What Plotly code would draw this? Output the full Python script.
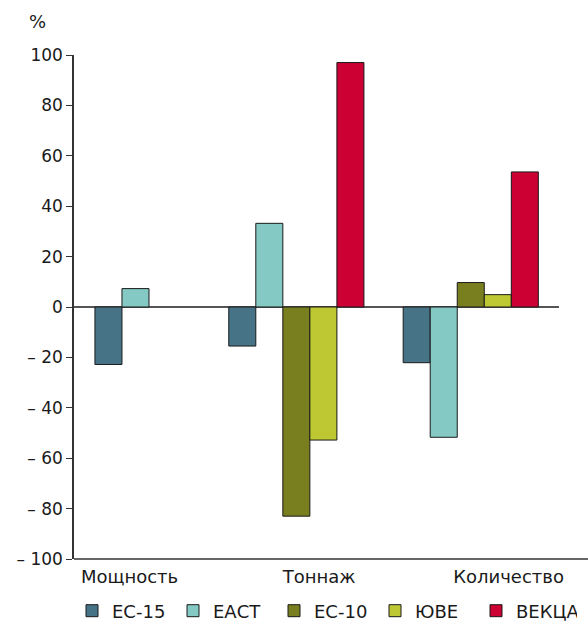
import plotly.graph_objects as go

# ---- data ----
categories = ["Мощность", "Тоннаж", "Количество"]
series_names = ["ЕС-15", "ЕАСТ", "ЕС-10", "ЮВЕ", "ВЕКЦА"]
ec15 = [-22.8, -15.5, -22.1]
eact = [7.3, 33.2, -51.7]
ec10 = [None, -83.0, 9.7]
yuve = [None, -52.8, 4.9]
vekca = [None, 97.0, 53.6]
y_tickvals = [-100, -80, -60, -40, -20, 0, 20, 40, 60, 80, 100]
y_ticktext = ["– 100", "– 80", "– 60", "– 40", "– 20", "0", "20", "40", "60", "80", "100"]

series_values = [ec15, eact, ec10, yuve, vekca]
colors = ["#467386", "#84C9C3", "#797E1E", "#BEC832", "#CC0033"]

W, H = 588, 625
ML, MR, MT, MB = 74, 29, 55, 66
BAR_W = 0.155
FONT = "DejaVu Sans"

# compute per-category centred offsets for present values
offsets = [[None] * len(categories) for _ in series_values]
for ci in range(len(categories)):
    present = [si for si, vals in enumerate(series_values) if vals[ci] is not None]
    n = len(present)
    for k, si in enumerate(present):
        offsets[si][ci] = -n * BAR_W / 2 + k * BAR_W

fig = go.Figure()
for si, (name, vals) in enumerate(zip(series_names, series_values)):
    offs = [o if o is not None else 0 for o in offsets[si]]
    fig.add_trace(go.Bar(
        x=categories, y=vals, name=name,
        width=BAR_W, offset=offs,
        marker=dict(color=colors[si], line=dict(color="#1a1a1a", width=1)),
    ))

# invisible helper trace so the category-label axis is drawn
fig.add_trace(go.Scatter(x=list(range(len(categories))), y=[None] * len(categories),
                         xaxis="x2", yaxis="y", mode="markers", showlegend=False,
                         hoverinfo="skip"))

plot_w = W - ML - MR
plot_h = H - MT - MB
fig.update_layout(
    width=W, height=H,
    margin=dict(l=ML, r=MR, t=MT, b=MB, autoexpand=False),
    paper_bgcolor="white", plot_bgcolor="white",
    barmode="overlay",
    font=dict(family=FONT, size=17, color="#1a1a1a"),
    showlegend=True,
    legend=dict(orientation="h", x=-2 / plot_w, xanchor="left", y=-(611 - (H - MB)) / plot_h,
                yanchor="middle", entrywidth=56, entrywidthmode="pixels",
                font=dict(size=18, family=FONT), traceorder="normal", itemwidth=30),
    xaxis=dict(type="category", range=[-0.275, 2.506], showticklabels=False,
               showline=False, showgrid=False, zeroline=False, ticks=""),
    xaxis2=dict(overlaying="x", anchor="y", side="bottom", range=[-0.293, 2.266],
                tickmode="array", tickvals=list(range(len(categories))), ticktext=categories,
                showline=False, showgrid=False, zeroline=False, ticks="",
                ticklabelstandoff=5, tickfont=dict(size=18, family=FONT)),
    yaxis=dict(range=[-100, 100], tickmode="array", tickvals=y_tickvals, ticktext=y_ticktext,
               showline=True, linecolor="#333", linewidth=1.5, ticks="outside", ticklen=6,
               tickcolor="#333", showgrid=False, zeroline=True, zerolinecolor="#555",
               zerolinewidth=1.5, tickfont=dict(size=17, family=FONT)),
    shapes=[dict(type="line", xref="paper", yref="paper", x0=0, x1=(W - ML) / plot_w,
                 y0=0, y1=0, line=dict(color="#333", width=1.5))],
    annotations=[dict(text="%", xref="paper", yref="paper", x=-47 / plot_w, y=1 + 34 / plot_h,
                      xanchor="left", yanchor="middle", showarrow=False,
                      font=dict(size=18, family=FONT))],
)

fig.write_html("out.html", config={"displayModeBar": False},
               post_script="document.body.style.margin='0';")
